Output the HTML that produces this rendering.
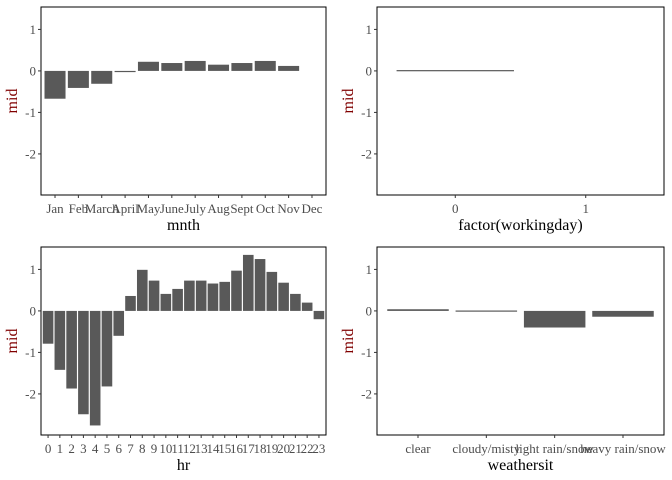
<!DOCTYPE html>
<html><head><meta charset="utf-8"><style>
html,body{margin:0;padding:0;background:#fff;width:672px;height:480px;overflow:hidden}
svg text{font-family:"Liberation Serif",serif}
</style></head><body>
<svg id="chart" width="672" height="480" xmlns="http://www.w3.org/2000/svg"></svg>
<script>
const monthCats=["Jan","Feb","March","April","May","June","July","Aug","Sept","Oct","Nov","Dec"];
const monthVals=[-0.67,-0.41,-0.31,-0.01,0.22,0.19,0.24,0.15,0.19,0.24,0.12,null];
const wdCats=["0","1"];
const wdVals=[0.02,null];
const hrCats=["0","1","2","3","4","5","6","7","8","9","10","11","12","13","14","15","16","17","18","19","20","21","22","23"];
const hrVals=[-0.79,-1.42,-1.87,-2.49,-2.76,-1.82,-0.6,0.36,0.99,0.73,0.41,0.53,0.73,0.73,0.66,0.70,0.97,1.35,1.25,0.94,0.68,0.41,0.2,-0.2];
const wsCats=["clear","cloudy/misty","light rain/snow","heavy rain/snow"];
const wsVals=[0.04,0.01,-0.4,-0.14];
const yTicks=[1,0,-1,-2];
const NS="http://www.w3.org/2000/svg";
const svg=document.getElementById('chart');
function mk(t,a,p){const e=document.createElementNS(NS,t);for(const k in a)e.setAttribute(k,a[k]);(p||svg).appendChild(e);return e;}
function panel(name,x0,x1,y0,y1,cats,vals,xtitle){
  const g=mk('g',{});
  
  
  const ymax=1.54,ymin=-2.99;
  const ys=v=>y0+(ymax-v)/(ymax-ymin)*(y1-y0);
  const n=cats.length,span=n-1+1.2,step=(x1-x0)/span;
  const xs=i=>x0+(0.6+i)*step;
  for(let i=0;i<n;i++){
    const v=vals[i];
    if(v===null||v===undefined)continue;
    const top=Math.min(ys(v),ys(0)),h=Math.max(Math.abs(ys(v)-ys(0)),1.2);
    const r=mk('rect',{x:xs(i)-0.45*step,y:top,width:0.9*step,height:h,fill:'#595959'},g);
    
    
  }
  const frame=mk('rect',{x:x0,y:y0,width:x1-x0,height:y1-y0,fill:'none',stroke:'#000','stroke-width':1},g);
  
  
  yTicks.forEach(t=>{
    mk('line',{x1:x0-3,x2:x0,y1:ys(t),y2:ys(t),stroke:'#333'},g);
    const tx=mk('text',{x:x0-5,y:ys(t)+4.5,'text-anchor':'end','font-size':13,fill:'#4d4d4d'},g);
    tx.textContent=t;
    
    
  });
  cats.forEach((c,i)=>{
    mk('line',{x1:xs(i),x2:xs(i),y1:y1,y2:y1+3,stroke:'#333'},g);
    const tx=mk('text',{x:xs(i),y:y1+18,'text-anchor':'middle','font-size':13,fill:'#4d4d4d'},g);
    tx.textContent=c;
    
    
  });
  const yt=mk('text',{x:0,y:0,'text-anchor':'middle','font-size':16,fill:'#800000',transform:`translate(${x0-24},${(y0+y1)/2}) rotate(-90)`},g);
  yt.textContent='mid';
  
  
  const xt=mk('text',{x:(x0+x1)/2,y:y1+35,'text-anchor':'middle','font-size':16,fill:'#000'},g);
  xt.textContent=xtitle;
  
  
}
panel('month',41,326,7,195,monthCats,monthVals,'mnth');
panel('workingday',377,664,7,195,wdCats,wdVals,'factor(workingday)');
panel('hour',41,326,247,435,hrCats,hrVals,'hr');
panel('weather',377,664,247,435,wsCats,wsVals,'weathersit');
</script>
</body></html>
